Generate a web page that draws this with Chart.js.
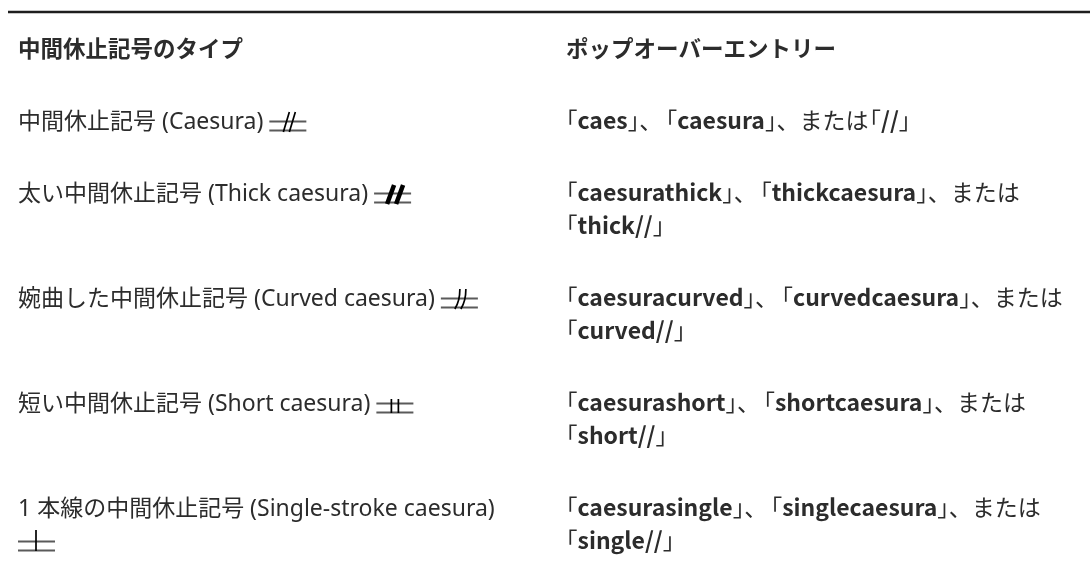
<!DOCTYPE html>
<html lang="ja">
<head>
<meta charset="utf-8">
<script src="https://cdn.jsdelivr.net/npm/chart.js@4.4.1/dist/chart.umd.min.js"></script>
<style>
  html, body { margin: 0; padding: 0; background: #fff; }
</style>
</head>
<body>
<canvas id="caesuraTable" width="1090" height="570"></canvas>
<script>
// 見出し
const columnHeaders = ["中間休止記号のタイプ", "ポップオーバーエントリー"];

// 左列: 記号の名前
const caesuraNames = [
  "中間休止記号 (Caesura)",
  "太い中間休止記号 (Thick caesura)",
  "婉曲した中間休止記号 (Curved caesura)",
  "短い中間休止記号 (Short caesura)",
  "1 本線の中間休止記号 (Single-stroke caesura)"
];

// 名前の後ろに付く記号の形
const caesuraGlyphs = ["normal", "thick", "curved", "short", "single"];

// 右列: ** で囲んだ部分は太字、配列の要素ごとに改行
const popoverEntries = [
  ["「**caes**」、「**caesura**」、または「**//**」"],
  ["「**caesurathick**」、「**thickcaesura**」、または", "「**thick//**」"],
  ["「**caesuracurved**」、「**curvedcaesura**」、または", "「**curved//**」"],
  ["「**caesurashort**」、「**shortcaesura**」、または", "「**short//**」"],
  ["「**caesurasingle**」、「**singlecaesura**」、または", "「**single//**」"]
];

// レイアウト (px)
const W = 1090, H = 570;
const lineH = 33;          // 1行の高さ
const fontSize = 23;
const headSize = 22.5;
const padLeft = 8;         // 上の罫線の開始位置
const colInset = 10;       // 左列テキストの開始 (罫線から)
const colGap = 548;        // 左列と右列の間隔
const leftColRight = 528;  // 左列の折り返し位置
const textColor = "#2c2c2c";
const CJK = "'Noto Sans CJK JP'";
const LATIN = "'Noto Sans', 'Noto Sans CJK JP'";

// 縦軸は「行」単位
const ruleLine = 12 / lineH;
const headerLine = 57 / lineH;
const rowGapLines = 72 / lineH;

// セルの位置を組み立てる (x: 列番号, y: ベースラインの行位置)
const cellPoints = [];
cellPoints.push({ x: 0, y: headerLine, kind: "header", col: 0 });
cellPoints.push({ x: 1, y: headerLine, kind: "header", col: 1 });
let lastLine = headerLine;
caesuraNames.forEach((name, i) => {
  const first = lastLine + rowGapLines;
  const nLines = Math.max(popoverEntries[i].length, caesuraGlyphs[i] === "single" ? 2 : 1);
  cellPoints.push({ x: 0, y: first, kind: "name", row: i });
  cellPoints.push({ x: 1, y: first, kind: "entry", row: i });
  lastLine = first + nLines - 1;
});

const xMin = -colInset / colGap;
const xMax = xMin + (W - padLeft) / colGap;

// 中間休止記号の小さな図形
function drawCaesura(ctx, kind, gx, b) {
  ctx.save();
  ctx.lineCap = "butt";
  ctx.strokeStyle = "#5a5a5a";
  ctx.lineWidth = 1.8;
  ctx.beginPath();
  ctx.moveTo(gx, b - 7.5); ctx.lineTo(gx + 37, b - 7.5);
  ctx.moveTo(gx, b + 1.5); ctx.lineTo(gx + 37, b + 1.5);
  ctx.stroke();
  ctx.strokeStyle = "#000";
  ctx.beginPath();
  if (kind === "normal") {
    ctx.lineWidth = 1.7;
    ctx.moveTo(gx + 14, b + 3); ctx.lineTo(gx + 20, b - 17);
    ctx.moveTo(gx + 20, b + 3); ctx.lineTo(gx + 26, b - 17);
  } else if (kind === "thick") {
    ctx.lineWidth = 4.5;
    ctx.moveTo(gx + 13, b + 3); ctx.lineTo(gx + 20, b - 16);
    ctx.moveTo(gx + 22, b + 3); ctx.lineTo(gx + 29, b - 16);
  } else if (kind === "curved") {
    ctx.lineWidth = 1.7;
    ctx.moveTo(gx + 14, b + 3); ctx.quadraticCurveTo(gx + 19, b - 5, gx + 19, b - 17);
    ctx.moveTo(gx + 20, b + 3); ctx.quadraticCurveTo(gx + 25, b - 5, gx + 25, b - 17);
  } else if (kind === "short") {
    ctx.lineWidth = 1.7;
    ctx.moveTo(gx + 15, b - 12); ctx.lineTo(gx + 15, b + 2);
    ctx.moveTo(gx + 22, b - 12); ctx.lineTo(gx + 22, b + 2);
  } else if (kind === "single") {
    ctx.lineWidth = 1.7;
    ctx.moveTo(gx + 18, b - 19); ctx.lineTo(gx + 18, b + 2);
  }
  ctx.stroke();
  ctx.restore();
}

// ** で太字を切り替えながら1行を描く (括弧は詰める)
function drawRich(ctx, str, x0, y) {
  let x = x0;
  let prev = "";
  str.split("**").forEach((part, i) => {
    ctx.font = (i % 2 ? "700 " : "400 ") + fontSize + "px " + CJK;
    const tokens = part.match(/[「」、]|[^「」、]+/g) || [];
    tokens.forEach(t => {
      const w = ctx.measureText(t).width;
      if (t === "「") {
        let shift = fontSize * 0.45;
        if (x === x0) shift = fontSize * 0.5;
        else if (prev === "、") shift = fontSize * 0.35;
        ctx.fillText(t, x - shift, y);
        x += w - shift;
      } else if (t === "」") {
        ctx.fillText(t, x, y);
        x += w * 0.5;
      } else {
        ctx.fillText(t, x, y);
        x += w;
      }
      prev = t.slice(-1);
    });
  });
}

const tableText = {
  id: "tableText",
  afterDatasetsDraw(chart) {
    const ctx = chart.ctx;
    const meta = chart.getDatasetMeta(0);
    const yScale = chart.scales.y;
    const step = yScale.getPixelForValue(1) - yScale.getPixelForValue(0);
    ctx.save();
    ctx.fillStyle = textColor;
    ctx.textBaseline = "alphabetic";
    ctx.textAlign = "left";
    meta.data.forEach((pt, i) => {
      const cell = cellPoints[i];
      const x = pt.x, y = pt.y;
      if (cell.kind === "header") {
        ctx.font = "700 " + headSize + "px " + CJK;
        ctx.fillText(columnHeaders[cell.col], x, y);
      } else if (cell.kind === "name") {
        ctx.font = "400 " + fontSize + "px " + LATIN;
        const name = caesuraNames[cell.row];
        ctx.fillText(name, x, y);
        const endX = x + ctx.measureText(name + " ").width;
        if (endX + 37 > leftColRight) {
          drawCaesura(ctx, caesuraGlyphs[cell.row], x, y + step);
        } else {
          drawCaesura(ctx, caesuraGlyphs[cell.row], endX, y);
        }
      } else {
        popoverEntries[cell.row].forEach((line, k) => {
          drawRich(ctx, line, x, y + k * step);
        });
      }
    });
    ctx.restore();
  }
};

new Chart(document.getElementById("caesuraTable"), {
  type: "scatter",
  data: {
    datasets: [
      {
        data: cellPoints,
        pointRadius: 0,
        showLine: false
      },
      {
        data: [{ x: xMin, y: ruleLine }, { x: xMax, y: ruleLine }],
        showLine: true,
        borderColor: "#1e1e1e",
        borderWidth: 2.5,
        pointRadius: 0
      }
    ]
  },
  options: {
    responsive: false,
    animation: false,
    events: [],
    layout: { padding: { left: padLeft, right: 0, top: 0, bottom: 0 } },
    plugins: { legend: { display: false }, tooltip: { enabled: false } },
    scales: {
      x: { type: "linear", min: xMin, max: xMax, display: false },
      y: { type: "linear", min: 0, max: H / lineH, reverse: true, display: false }
    }
  },
  plugins: [tableText]
});
</script>
</body>
</html>
